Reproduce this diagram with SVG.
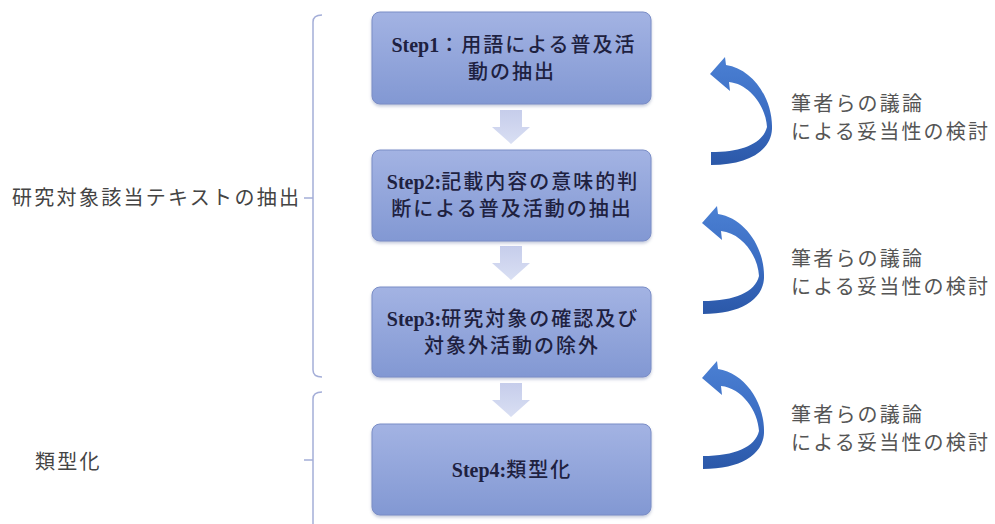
<svg xmlns="http://www.w3.org/2000/svg" width="995" height="524" viewBox="0 0 995 524">
<defs>
<linearGradient id="boxg" x1="0" y1="0" x2="0" y2="1">
<stop offset="0" stop-color="#a3b3e3"/>
<stop offset="1" stop-color="#8298d3"/>
</linearGradient>
<linearGradient id="downg" x1="0" y1="0" x2="0" y2="1">
<stop offset="0" stop-color="#c6cdeb"/>
<stop offset="1" stop-color="#d9dff3"/>
</linearGradient>
<linearGradient id="curvg" x1="0" y1="0" x2="0" y2="1">
<stop offset="0" stop-color="#4b80d3"/>
<stop offset="0.55" stop-color="#3a6cc2"/>
<stop offset="1" stop-color="#2b58a8"/>
</linearGradient>
<filter id="sh" x="-5%" y="-5%" width="110%" height="120%">
<feDropShadow dx="0" dy="2" stdDeviation="1.5" flood-color="#5a6a9a" flood-opacity="0.35"/>
</filter>
<path id="curved" d="M 702,223 L 717,206 L 718,214 C 745,218 765,248 764,278 C 763,300 740,314 703,314 L 703,301 C 735,301 755,292 759,276 C 758,256 742,233 721,231 L 722,240 Z"/>
<path id="down" d="M 500,0 L 522,0 L 522,17 L 530,17 L 511,34 L 492,17 L 500,17 Z"/>
</defs>
<style>
.box{fill:url(#boxg);stroke:#7a8dc6;stroke-width:1;filter:url(#sh)}
.st{font-family:"Liberation Serif","Noto Sans CJK JP",serif;font-size:20px;font-weight:500;fill:#1e2140;text-anchor:middle;letter-spacing:2px}
.st tspan{font-weight:bold;letter-spacing:0}
.rt{font-family:"Liberation Serif","Noto Sans CJK JP",serif;font-size:20px;fill:#555;letter-spacing:2.2px}
.lt{font-family:"Liberation Serif","Noto Sans CJK JP",serif;font-size:20px;fill:#444;letter-spacing:2.3px}
.brace{fill:none;stroke:#a4aed8;stroke-width:1.5}
</style>
<rect width="995" height="524" fill="#ffffff"/>

<g id="connectors">
<use href="#down" transform="translate(0,110)" fill="url(#downg)"/>
<use href="#down" transform="translate(0,246)" fill="url(#downg)"/>
<use href="#down" transform="translate(0,383)" fill="url(#downg)"/>
<use href="#curved" transform="translate(8,-149)" fill="url(#curvg)"/>
<use href="#curved" fill="url(#curvg)"/>
<use href="#curved" transform="translate(0,155)" fill="url(#curvg)"/>
</g>

<g id="step1">
<rect class="box" x="372" y="12" width="279" height="92" rx="8"/>
<text class="st" x="514" y="52"><tspan>Step1</tspan>：用語による普及活</text>
<text class="st" x="512" y="79">動の抽出</text>
</g>
<g id="step2">
<rect class="box" x="372" y="150" width="279" height="91" rx="8"/>
<text class="st" x="513" y="189"><tspan>Step2:</tspan>記載内容の意味的判</text>
<text class="st" x="512" y="216">断による普及活動の抽出</text>
</g>
<g id="step3">
<rect class="box" x="372" y="287" width="279" height="90" rx="8"/>
<text class="st" x="513" y="326"><tspan>Step3:</tspan>研究対象の確認及び</text>
<text class="st" x="512" y="353">対象外活動の除外</text>
</g>
<g id="step4">
<rect class="box" x="372" y="424" width="279" height="91" rx="8"/>
<text class="st" x="512" y="477"><tspan>Step4:</tspan>類型化</text>
</g>

<g id="note1">
<text class="rt" x="791" y="111">筆者らの議論</text>
<text class="rt" x="791" y="139">による妥当性の検討</text>
</g>
<g id="note2">
<text class="rt" x="791" y="266">筆者らの議論</text>
<text class="rt" x="791" y="294">による妥当性の検討</text>
</g>
<g id="note3">
<text class="rt" x="791" y="422">筆者らの議論</text>
<text class="rt" x="791" y="450">による妥当性の検討</text>
</g>

<g id="group1">
<path class="brace" d="M 322,15 Q 313,15 313,22 L 313,370 Q 313,377 322,377 M 304,198 L 313,198"/>
<text class="lt" x="12" y="205">研究対象該当テキストの抽出</text>
</g>
<g id="group2">
<path class="brace" d="M 322,392 Q 313,392 313,399 L 313,524 M 304,460 L 313,460"/>
<text class="lt" x="35" y="469">類型化</text>
</g>
</svg>
